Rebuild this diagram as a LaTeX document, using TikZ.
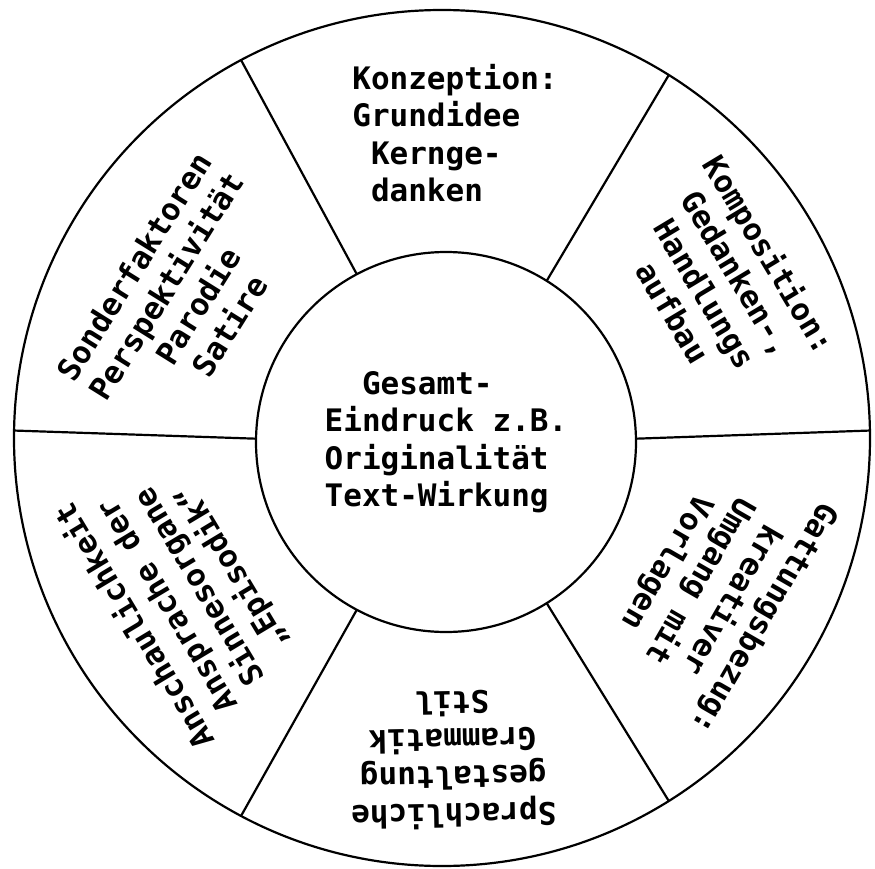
\documentclass[tikz,border=0pt]{standalone}
\usepackage{fontspec}
\setmonofont{DejaVu Sans Mono}
\usepackage{tikz}
\usetikzlibrary{positioning}

\newcommand{\ind}{\hphantom{x}}

\begin{document}
\begin{tikzpicture}[x=1pt, y=1pt,
    ring/.style={draw, circle, inner sep=0pt, outer sep=0pt, line width=2.2pt},
    field/.style={font=\ttfamily\bfseries\fontsize{31}{37.5}\selectfont, align=center}]
    \useasboundingbox (-444,-428) rectangle (431,440);

    % wheel
    \node[ring, minimum size=856pt] (rim) at (-2,2) {};
    \node[ring, minimum size=380pt, field, align=left] (hub) at (2,-2)
        {\ind\ind Gesamt-\\Eindruck z.B.\\Originalität\\Text-Wirkung};
    \draw[line width=2.2pt]
    (hub.1) -- (rim.1)
    (hub.58) -- (rim.58)
    (hub.118) -- (rim.118)
    (hub.179) -- (rim.179)
    (hub.242) -- (rim.242)
    (hub.302) -- (rim.302);

    % sectors, text upright towards the rim
    \node[field, align=left] (konzeption) at (11,307)
        {Konzeption:\\Grundidee\\\ind Kernge-\\\ind danken};
    \node[field, rotate=-59] (komposition) at (278,157)
        {Komposition:\\Gedanken-,\\Handlungs\\aufbau};
    \node[field, rotate=-120] (gattung) at (271,-150)
        {Gattungsbezug:\\kreativer\\Umgang mit\\Vorlagen};
    \node[field, rotate=181] (sprache) at (9,-320)
        {Sprachliche\\gestaltung\\Grammatik\\Stil};
    \node[field, rotate=121] (anschauung) at (-260,-156)
        {Anschaulichkeit\\Ansprache der\\Sinnesorgane\\„Episodik“};
    \node[field, rotate=58] (sonder) at (-262,144)
        {Sonderfaktoren\\Perspektivität\\Parodie\\Satire};
\end{tikzpicture}
\end{document}
